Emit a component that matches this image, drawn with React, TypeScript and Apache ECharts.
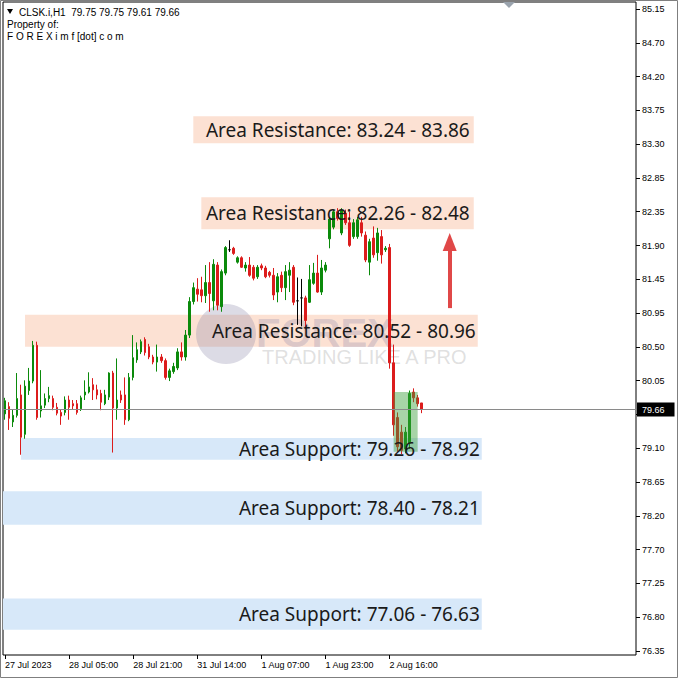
import React, { useEffect, useRef } from "react";
import * as echarts from "echarts";

const ticker = "CLSK.i,H1";
const watermarkTitle = "FOREX";
const watermarkTagline = "TRADING LIKE A PRO";
const ownerLine1 = "Property of:";
const ownerLine2 = "F O R E X i m f [dot] c o m";

const xTickLabels = ["27 Jul 2023", "28 Jul 05:00", "28 Jul 21:00", "31 Jul 14:00", "1 Aug 07:00", "1 Aug 23:00", "2 Aug 16:00"];
const yTickLabels = ["76.35", "76.80", "77.25", "77.70", "78.20", "78.65", "79.10", "79.60", "80.05", "80.50", "80.95", "81.45", "81.90", "82.35", "82.85", "83.30", "83.75", "84.20", "84.70", "85.15"];

// hourly candles: [open, high, low, close]
const candles: [number, number, number, number][] = [
  [79.60, 79.82, 79.52, 79.78], [79.70, 79.76, 79.38, 79.54], [79.49, 79.66, 79.42, 79.58], [79.58, 80.16, 79.55, 79.81],
  [79.86, 80.00, 79.04, 79.28], [79.32, 80.06, 79.26, 79.98], [79.92, 80.23, 79.86, 80.05], [80.05, 80.60, 80.02, 80.54],
  [80.54, 80.59, 79.52, 79.55], [79.64, 80.20, 79.55, 79.71], [79.72, 79.88, 79.68, 79.81], [79.81, 79.97, 79.76, 79.85],
  [79.81, 79.85, 79.65, 79.69], [79.69, 79.75, 79.58, 79.61], [79.62, 79.66, 79.45, 79.57], [79.62, 79.84, 79.58, 79.79],
  [79.79, 79.85, 79.52, 79.69], [79.74, 79.79, 79.66, 79.71], [79.74, 79.79, 79.59, 79.62], [79.67, 79.85, 79.64, 79.82],
  [79.86, 80.06, 79.79, 79.90], [79.90, 80.17, 79.88, 79.97], [80.00, 80.09, 79.79, 79.93], [79.93, 80.00, 79.80, 79.86],
  [79.88, 79.93, 79.65, 79.76], [79.74, 79.93, 79.72, 79.86], [79.83, 80.17, 79.79, 80.16], [80.16, 80.19, 79.07, 79.68],
  [79.68, 80.36, 79.52, 79.79], [79.86, 79.92, 79.75, 79.79], [79.86, 80.10, 79.45, 79.52], [79.52, 80.16, 79.50, 80.10],
  [80.10, 80.68, 80.06, 80.37], [80.34, 80.58, 80.30, 80.48], [80.45, 80.62, 80.42, 80.59], [80.62, 80.65, 80.40, 80.44],
  [80.52, 80.56, 80.35, 80.38], [80.38, 80.41, 80.28, 80.31], [80.31, 80.55, 80.18, 80.38], [80.38, 80.42, 80.30, 80.33],
  [80.33, 80.36, 80.07, 80.10], [80.10, 80.22, 80.05, 80.19], [80.18, 80.30, 80.15, 80.25], [80.23, 80.50, 80.20, 80.45],
  [80.45, 80.58, 80.33, 80.38], [80.38, 80.75, 80.33, 80.68], [80.68, 81.20, 80.64, 81.14], [81.14, 81.40, 81.10, 81.33],
  [81.31, 81.46, 81.14, 81.24], [81.30, 81.48, 81.13, 81.22], [81.22, 81.64, 81.12, 81.40], [81.40, 81.68, 81.00, 81.25],
  [81.15, 81.72, 81.02, 81.65], [81.64, 81.68, 81.02, 81.09], [81.07, 81.58, 81.00, 81.55], [81.53, 81.90, 81.50, 81.88],
  [81.85, 81.98, 81.82, 81.85], [81.87, 81.89, 81.78, 81.80], [81.68, 81.76, 81.66, 81.74], [81.74, 81.76, 81.60, 81.61],
  [81.60, 81.68, 81.55, 81.64], [81.64, 81.75, 81.48, 81.50], [81.61, 81.64, 81.43, 81.46], [81.48, 81.64, 81.45, 81.61],
  [81.63, 81.66, 81.57, 81.60], [81.60, 81.63, 81.46, 81.48], [81.54, 81.56, 81.47, 81.50], [81.50, 81.60, 81.16, 81.23],
  [81.27, 81.53, 81.13, 81.48], [81.50, 81.55, 81.27, 81.33], [81.33, 81.64, 81.16, 81.55], [81.50, 81.68, 81.27, 81.57],
  [81.61, 81.64, 81.09, 81.13], [81.15, 81.47, 80.82, 81.15], [81.19, 81.45, 80.80, 81.19], [81.19, 81.22, 80.76, 80.88],
  [81.13, 81.64, 81.12, 81.44], [81.39, 81.67, 81.37, 81.53], [81.53, 81.78, 81.26, 81.27], [81.27, 81.71, 81.23, 81.60],
  [81.57, 81.68, 81.54, 81.64], [82.00, 82.30, 81.87, 82.27], [82.16, 82.40, 82.13, 82.37], [82.37, 82.42, 82.25, 82.28],
  [82.08, 82.42, 82.05, 82.39], [82.35, 82.40, 82.19, 82.22], [82.22, 82.37, 81.89, 81.91], [82.03, 82.27, 82.00, 82.22],
  [82.03, 82.30, 82.00, 82.26], [82.22, 82.30, 82.03, 82.08], [82.05, 82.10, 81.68, 81.71], [81.68, 82.00, 81.50, 81.96],
  [82.01, 82.17, 81.74, 81.78], [81.81, 82.15, 81.70, 82.08], [82.03, 82.12, 81.66, 81.78], [81.85, 81.90, 81.82, 81.87],
  [81.88, 81.93, 80.22, 80.30], [80.30, 80.55, 79.30, 79.45], [79.55, 79.62, 79.08, 79.15], [79.35, 79.45, 79.05, 79.10],
  [79.12, 79.42, 79.06, 79.35], [79.20, 79.92, 79.12, 79.88], [79.90, 79.95, 79.76, 79.82], [79.82, 79.86, 79.70, 79.74],
  [79.75, 79.75, 79.61, 79.66],
];

const zoneLabels = [
  "Area Resistance: 83.24 - 83.86",
  "Area Resistance: 82.26 - 82.48",
  "Area Resistance: 80.52 - 80.96",
  "Area Support: 79.26 - 78.92",
  "Area Support: 78.40 - 78.21",
  "Area Support: 77.06 - 76.63",
];
const zoneUpper = [83.68, 82.57, 80.96, 79.27, 78.54, 77.07];
const zoneLower = [83.31, 82.13, 80.52, 78.97, 78.08, 76.64];
const zoneIsResistance = [true, true, true, false, false, false];

const highlightUpper = 79.9;
const highlightLower = 79.08;
const arrowFromPrice = 81.05;
const arrowToPrice = 81.956;

export default function App() {
  const ref = useRef<HTMLDivElement>(null);
  useEffect(() => {
    if (!ref.current) return;
    const chart = echarts.init(ref.current, undefined, { renderer: "svg" });

    const slotCount = 158;
    const categories = Array.from({ length: slotCount }, (_, i) => String(i));
    const tickLo = Number(yTickLabels[0]);
    const tickHi = Number(yTickLabels[yTickLabels.length - 1]);
    const step = (tickHi - tickLo) / (yTickLabels.length - 1);
    const tickVals = yTickLabels.map((_, k) => tickLo + k * step);
    const labelEvery = 16;
    const showX = (i: number) => i % labelEvery === 0 && i / labelEvery < xTickLabels.length;

    const last = candles[candles.length - 1];
    const lastClose = last[3];
    const fmt = (v: number) => v.toFixed(2);
    // the price box covers the tick label nearest to the last close
    const labelVals = tickVals.filter((v) => Math.abs(v - lastClose) > step * 0.3);

    const zoneStart: (number | null)[] = [47, 49, 5, 4, null, null];
    const zoneEnd = [117, 117, 118, 119, 119, 119];
    const fillData = zoneLabels.map((_, z) => [
      Object.assign(zoneStart[z] === null ? {} : { xAxis: zoneStart[z] }, {
        yAxis: zoneUpper[z],
        itemStyle: { color: zoneIsResistance[z] ? "#fce1d3" : "#d7e8f9" },
      }),
      { xAxis: zoneEnd[z], yAxis: zoneLower[z] },
    ]);
    const labelData: any[] = zoneLabels.map((name, z) => [
      Object.assign(zoneStart[z] === null ? {} : { xAxis: zoneStart[z] }, {
        name,
        yAxis: zoneUpper[z],
        itemStyle: { color: "rgba(0,0,0,0)" },
        label: {
          show: true,
          position: "insideRight",
          distance: z < 2 ? 4 : 2,
          color: "#1a1a1a",
          fontSize: 19,
          fontFamily: "Noto Sans",
        },
      }),
      { xAxis: zoneEnd[z], yAxis: zoneLower[z] },
    ]);
    labelData.push([
      { xAxis: 97, yAxis: highlightUpper, itemStyle: { color: "rgba(60,160,60,0.45)" }, label: { show: false } },
      { xAxis: 103, yAxis: highlightLower },
    ]);

    const option: any = {
      animation: false,
      backgroundColor: "#ffffff",
      grid: {
        left: 3,
        right: 42,
        top: 2,
        bottom: 23,
        show: true,
        borderColor: "#000",
        borderWidth: 1,
        backgroundColor: "#fff",
        containLabel: false,
        outerBoundsMode: "none",
      },
      xAxis: {
        type: "category",
        data: categories,
        boundaryGap: true,
        axisLine: { show: false },
        splitLine: { show: false },
        axisTick: {
          show: true,
          alignWithLabel: true,
          interval: (i: number) => showX(i),
          length: 4,
          lineStyle: { color: "#000" },
        },
        axisLabel: {
          interval: (i: number) => showX(i),
          formatter: (_v: string, i: number) => xTickLabels[i / labelEvery] ?? "",
          align: "left",
          margin: 5,
          fontSize: 9,
          color: "#000",
          fontFamily: "Liberation Sans",
        },
      },
      yAxis: {
        type: "value",
        position: "right",
        min: 76.295,
        max: 85.246,
        scale: true,
        axisLine: { show: false },
        splitLine: { show: false },
        axisTick: { show: true, customValues: tickVals, length: 4, lineStyle: { color: "#000" } },
        axisLabel: {
          customValues: labelVals,
          formatter: (v: number) => yTickLabels[Math.round((v - tickLo) / step)] ?? "",
          margin: 6,
          fontSize: 9,
          color: "#000",
          fontFamily: "Liberation Sans",
        },
      },
      series: [
        {
          type: "candlestick",
          z: 2,
          barWidth: 2,
          data: candles.map(([o, h, l, c]) => [o, c, l, h]),
          itemStyle: {
            color: "#0b8a0b",
            color0: "#dc1c1c",
            borderColor: "#0b8a0b",
            borderColor0: "#dc1c1c",
            borderColorDoji: "#000",
            borderWidth: 1,
          },
          markArea: { silent: true, z: 1, data: fillData },
          markLine: {
            silent: true,
            z: 5,
            symbol: ["none", "none"],
            data: [
              {
                yAxis: lastClose,
                lineStyle: { color: "#8a8a8a", width: 1, type: "solid" },
                label: {
                  show: true,
                  position: "end",
                  distance: 1,
                  formatter: fmt(lastClose),
                  backgroundColor: "#000",
                  color: "#fff",
                  fontSize: 9,
                  fontFamily: "Liberation Sans",
                  padding: [3, 10, 2, 5],
                },
              },
              [
                {
                  coord: [111, arrowFromPrice],
                  symbol: "none",
                  lineStyle: { color: "#e04848", width: 4, type: "solid" },
                  label: { show: false },
                },
                {
                  coord: [111, arrowToPrice],
                  symbol: "triangle",
                  symbolSize: [14, 18],
                  lineStyle: { color: "#e04848", width: 4, type: "solid" },
                  label: { show: false },
                },
              ],
            ],
          },
        },
        {
          type: "line",
          data: [],
          z: 4,
          markArea: { silent: true, z: 4, data: labelData },
        },
      ],
      graphic: [
        { type: "circle", z: 1.5, shape: { cx: 226, cy: 334, r: 30 }, style: { fill: "rgba(140,135,170,0.3)" } },
        {
          type: "text",
          z: 1.5,
          x: 256,
          y: 333,
          style: {
            text: watermarkTitle,
            fill: "rgba(140,135,170,0.3)",
            font: "bold 40px 'Liberation Sans'",
            textVerticalAlign: "middle",
          },
        },
        {
          type: "text",
          z: 1.5,
          x: 262,
          y: 357,
          style: {
            text: watermarkTagline,
            fill: "rgba(150,150,150,0.3)",
            font: "20px 'Liberation Sans'",
            textVerticalAlign: "middle",
          },
        },
        { type: "polygon", z: 10, shape: { points: [[7, 9], [13, 9], [10, 14]] }, style: { fill: "#000" } },
        {
          type: "text",
          z: 10,
          x: 19,
          y: 12,
          style: {
            text: `${ticker}  ${fmt(last[0])} ${fmt(last[1])} ${fmt(last[2])} ${fmt(last[3])}`,
            fill: "#000",
            font: "10px 'Liberation Sans'",
            textVerticalAlign: "middle",
          },
        },
        {
          type: "text",
          z: 10,
          x: 7,
          y: 24,
          style: { text: ownerLine1, fill: "#000", font: "10px 'Liberation Sans'", textVerticalAlign: "middle" },
        },
        {
          type: "text",
          z: 10,
          x: 7,
          y: 36,
          style: { text: ownerLine2, fill: "#000", font: "10px 'Liberation Sans'", textVerticalAlign: "middle" },
        },
        { type: "polygon", z: 10, shape: { points: [[503, 2], [515, 2], [509, 8]] }, style: { fill: "#9aa3ad" } },
        {
          type: "rect",
          z: 10,
          shape: { x: 0.5, y: 0.5, width: 677, height: 677 },
          style: { fill: "none", stroke: "#7f7f7f", lineWidth: 1 },
        },
      ],
    };

    chart.setOption(option);
    return () => chart.dispose();
  }, []);

  return <div ref={ref} style={{ position: "fixed", left: 0, top: 0, width: 678, height: 678 }} />;
}
